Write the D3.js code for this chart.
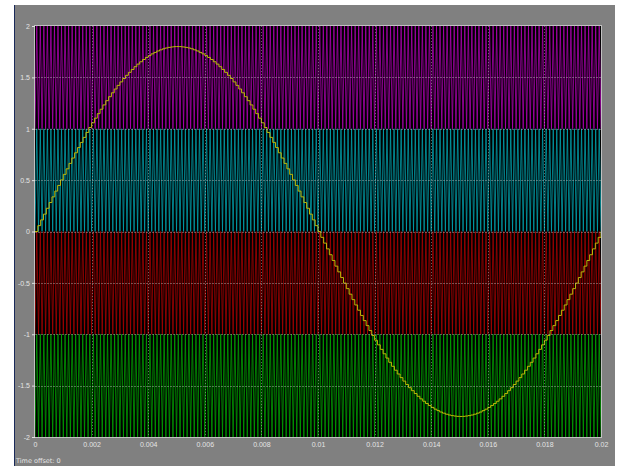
<!DOCTYPE html>
<html>
<head>
<meta charset="utf-8">
<script src="https://cdn.jsdelivr.net/npm/d3@7"></script>
<style>
  body { margin: 0; background: #ffffff; }
  svg { display: block; }
</style>
</head>
<body>
<div id="chart"></div>
<script>
// scope data
var xTicks = [0, 0.002, 0.004, 0.006, 0.008, 0.01, 0.012, 0.014, 0.016, 0.018, 0.02];
var xTickLabels = ["0", "0.002", "0.004", "0.006", "0.008", "0.01", "0.012", "0.014", "0.016", "0.018", "0.02"];
var yTicks = [-2, -1.5, -1, -0.5, 0, 0.5, 1, 1.5, 2];
var yTickLabels = ["-2", "-1.5", "-1", "-0.5", "0", "0.5", "1", "1.5", "2"];

// level shifted carriers: one band each
var bandNames = ["carrier1", "carrier2", "carrier3", "carrier4"];
var bandLow = [1, 0, -1, -2];
var bandHigh = [2, 1, 0, -1];
var bandColors = ["#b400b8", "#00a8b4", "#b00000", "#00a800"];
var carrierCycles = 160;   // triangle periods over the 0.02 s window

// reference signal, sampled every 1e-4 s (staircase)
var refStep = 0.0001;
var refValues = [
  0, 0.057, 0.113, 0.169, 0.226, 0.282, 0.337, 0.393, 0.448, 0.502,
  0.556, 0.610, 0.663, 0.715, 0.766, 0.817, 0.867, 0.916, 0.964, 1.012,
  1.058, 1.103, 1.147, 1.190, 1.232, 1.273, 1.312, 1.350, 1.387, 1.422,
  1.456, 1.489, 1.520, 1.549, 1.577, 1.604, 1.629, 1.652, 1.674, 1.694,
  1.712, 1.729, 1.743, 1.757, 1.768, 1.778, 1.786, 1.792, 1.796, 1.799,
  1.8, 1.799, 1.796, 1.792, 1.786, 1.778, 1.768, 1.757, 1.743, 1.729,
  1.712, 1.694, 1.674, 1.652, 1.629, 1.604, 1.577, 1.549, 1.520, 1.489,
  1.456, 1.422, 1.387, 1.350, 1.312, 1.273, 1.232, 1.190, 1.147, 1.103,
  1.058, 1.012, 0.964, 0.916, 0.867, 0.817, 0.766, 0.715, 0.663, 0.610,
  0.556, 0.502, 0.448, 0.393, 0.337, 0.282, 0.226, 0.169, 0.113, 0.057,
  0, -0.057, -0.113, -0.169, -0.226, -0.282, -0.337, -0.393, -0.448, -0.502,
  -0.556, -0.610, -0.663, -0.715, -0.766, -0.817, -0.867, -0.916, -0.964, -1.012,
  -1.058, -1.103, -1.147, -1.190, -1.232, -1.273, -1.312, -1.350, -1.387, -1.422,
  -1.456, -1.489, -1.520, -1.549, -1.577, -1.604, -1.629, -1.652, -1.674, -1.694,
  -1.712, -1.729, -1.743, -1.757, -1.768, -1.778, -1.786, -1.792, -1.796, -1.799,
  -1.8, -1.799, -1.796, -1.792, -1.786, -1.778, -1.768, -1.757, -1.743, -1.729,
  -1.712, -1.694, -1.674, -1.652, -1.629, -1.604, -1.577, -1.549, -1.520, -1.489,
  -1.456, -1.422, -1.387, -1.350, -1.312, -1.273, -1.232, -1.190, -1.147, -1.103,
  -1.058, -1.012, -0.964, -0.916, -0.867, -0.817, -0.766, -0.715, -0.663, -0.610,
  -0.556, -0.502, -0.448, -0.393, -0.337, -0.282, -0.226, -0.169, -0.113, -0.057,
  0
];

var width = 617;
var height = 466;
var plot = { left: 35, top: 26, right: 601, bottom: 437 };

var svg = d3.select("#chart")
            .append("svg")
            .attr("width", width)
            .attr("height", height)
            .style("font-family", "'DejaVu Sans', sans-serif");

// scope window (grey panel)
svg.append("rect")
   .attr("x", 14).attr("y", 5)
   .attr("width", 601).attr("height", height - 5)
   .attr("fill", "#808080");
svg.append("line")
   .attr("x1", 14.5).attr("x2", 14.5)
   .attr("y1", 5).attr("y2", height)
   .attr("stroke", "#1a2a5a")
   .attr("stroke-width", 1);

var x = d3.scaleLinear().domain([0, 0.02]).range([plot.left, plot.right]);
var y = d3.scaleLinear().domain([-2, 2]).range([plot.bottom, plot.top]);

svg.append("rect")
   .attr("x", plot.left).attr("y", plot.top)
   .attr("width", plot.right - plot.left)
   .attr("height", plot.bottom - plot.top)
   .attr("fill", "#000000");

svg.append("clipPath").attr("id", "clip")
   .append("rect")
   .attr("x", plot.left).attr("y", plot.top)
   .attr("width", plot.right - plot.left)
   .attr("height", plot.bottom - plot.top);

var gData = svg.append("g").attr("clip-path", "url(#clip)");

// triangular carriers
var line = d3.line().x(function(d) { return x(d[0]); }).y(function(d) { return y(d[1]); });

bandNames.forEach(function(name, i) {
    var pts = [];
    for (var k = 0; k <= carrierCycles * 2; k++) {
        var t = k * 0.02 / (carrierCycles * 2);
        pts.push([t, k % 2 === 0 ? bandLow[i] : bandHigh[i]]);
    }
    gData.append("path")
         .attr("class", name)
         .attr("d", line(pts))
         .attr("fill", "none")
         .attr("stroke", bandColors[i])
         .attr("stroke-width", 0.75);
});

// grid
var gGrid = svg.append("g");
gGrid.selectAll("line.vg")
     .data(xTicks.slice(1, -1))
     .enter().append("line")
     .attr("class", "vg")
     .attr("x1", function(d) { return Math.round(x(d)) + 0.5; })
     .attr("x2", function(d) { return Math.round(x(d)) + 0.5; })
     .attr("y1", plot.top).attr("y2", plot.bottom)
     .attr("stroke", "#c0c0c0")
     .attr("stroke-opacity", 0.5)
     .attr("stroke-dasharray", "1,2");
gGrid.selectAll("line.hg")
     .data(yTicks.slice(1, -1))
     .enter().append("line")
     .attr("class", "hg")
     .attr("x1", plot.left).attr("x2", plot.right)
     .attr("y1", function(d) { return Math.round(y(d)) + 0.5; })
     .attr("y2", function(d) { return Math.round(y(d)) + 0.5; })
     .attr("stroke", "#c8c8c8")
     .attr("stroke-opacity", 0.4)
     .attr("stroke-dasharray", "2,1");

// reference staircase
var refPts = refValues.map(function(v, k) { return [k * refStep, v]; });
gData.append("path")
     .attr("d", d3.line()
                  .x(function(d) { return x(d[0]); })
                  .y(function(d) { return y(d[1]); })
                  .curve(d3.curveStepAfter)(refPts))
     .attr("fill", "none")
     .attr("stroke", "#bcb808")
     .attr("stroke-width", 1);

// frame
svg.append("rect")
   .attr("x", plot.left - 0.5).attr("y", plot.top - 0.5)
   .attr("width", plot.right - plot.left + 1)
   .attr("height", plot.bottom - plot.top + 1)
   .attr("fill", "none")
   .attr("stroke", "#c0c0c0")
   .attr("stroke-width", 1);

// axes
var xAxis = d3.axisBottom(x)
              .tickValues(xTicks)
              .tickFormat(function(d, i) { return xTickLabels[i]; })
              .tickSize(0)
              .tickPadding(5);
var yAxis = d3.axisLeft(y)
              .tickValues(yTicks)
              .tickFormat(function(d, i) { return yTickLabels[i]; })
              .tickSize(3)
              .tickPadding(2);

var gx = svg.append("g")
            .attr("transform", "translate(0," + plot.bottom + ")")
            .call(xAxis);
var gy = svg.append("g")
            .attr("transform", "translate(" + plot.left + ",0)")
            .call(yAxis);

[gx, gy].forEach(function(g) {
    g.select(".domain").remove();
    g.selectAll("line").attr("stroke", "#e0e0e0");
    g.selectAll("text")
     .attr("fill", "#e4e4e4")
     .style("font-size", "7px");
});

svg.append("text")
   .attr("x", 16).attr("y", 463)
   .attr("fill", "#e4e4e4")
   .style("font-size", "6.5px")
   .text("Time offset:  0");
</script>
</body>
</html>
